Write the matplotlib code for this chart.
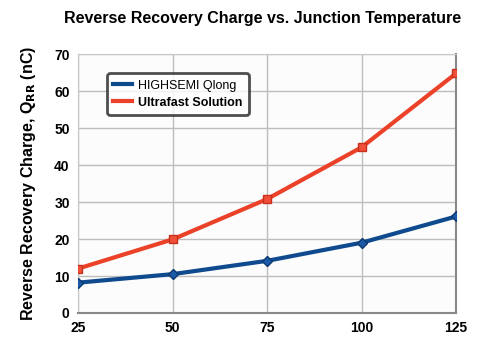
import matplotlib
matplotlib.use("Agg")
import matplotlib.pyplot as plt

plt.rcParams['font.family'] = ['Liberation Sans', 'DejaVu Sans']

temps = [25, 50, 75, 100, 125]
qlong = [8.2, 10.5, 14.1, 19.0, 26.1]
ultrafast = [12.0, 19.9, 30.8, 44.8, 64.8]
yticks = [0, 10, 20, 30, 40, 50, 60, 70]

fig = plt.figure(figsize=(4.91, 3.38), dpi=100)
ax = fig.add_axes([0.159, 0.074, 0.770, 0.766])

ax.plot(temps, qlong, color='#0f4a8f', lw=3, marker='D', ms=5,
        mfc='#1a5aa8', mec='#0b3a70', label='HIGHSEMI Qlong', zorder=3)
ax.plot(temps, ultrafast, color='#ea4128', lw=3, marker='s', ms=6,
        mfc='#f0503a', mec='#c8301c', label='Ultrafast Solution', zorder=3)

ax.set_xlim(25, 125)
ax.set_ylim(0, 70)
ax.set_xticks(temps)
ax.set_yticks(yticks)
ax.grid(True, color='#bdbdbd', lw=1)
ax.set_axisbelow(True)
ax.set_facecolor('#fcfcfc')
for s in ['left', 'top']:
    ax.spines[s].set_color('#c8c8c8')
for s in ['right', 'bottom']:
    ax.spines[s].set_color('#888888')
    ax.spines[s].set_linewidth(1.5)
ax.tick_params(length=0, pad=6, labelsize=10)
for lab in ax.get_xticklabels() + ax.get_yticklabels():
    lab.set_fontweight('bold')

ax.set_ylabel('Reverse Recovery Charge, Q$_{\\mathbf{RR}}$ (nC)', fontsize=11.5,
              fontweight='bold', labelpad=12)
fig.text(0.535, 0.945, 'Reverse Recovery Charge vs. Junction Temperature',
         ha='center', va='center', fontsize=11.5, fontweight='bold')

leg = ax.legend(loc='upper left', bbox_to_anchor=(0.06, 0.95), fontsize=9,
                frameon=True, fancybox=True, handlelength=1.5, borderpad=0.5,
                labelspacing=0.4, handletextpad=0.5)
leg.get_frame().set_edgecolor('#222222')
leg.get_frame().set_linewidth(2)
for h in leg.legend_handles:
    h.set_marker('')
leg.get_texts()[1].set_fontweight('bold')

fig.savefig('out.png', dpi=100)
